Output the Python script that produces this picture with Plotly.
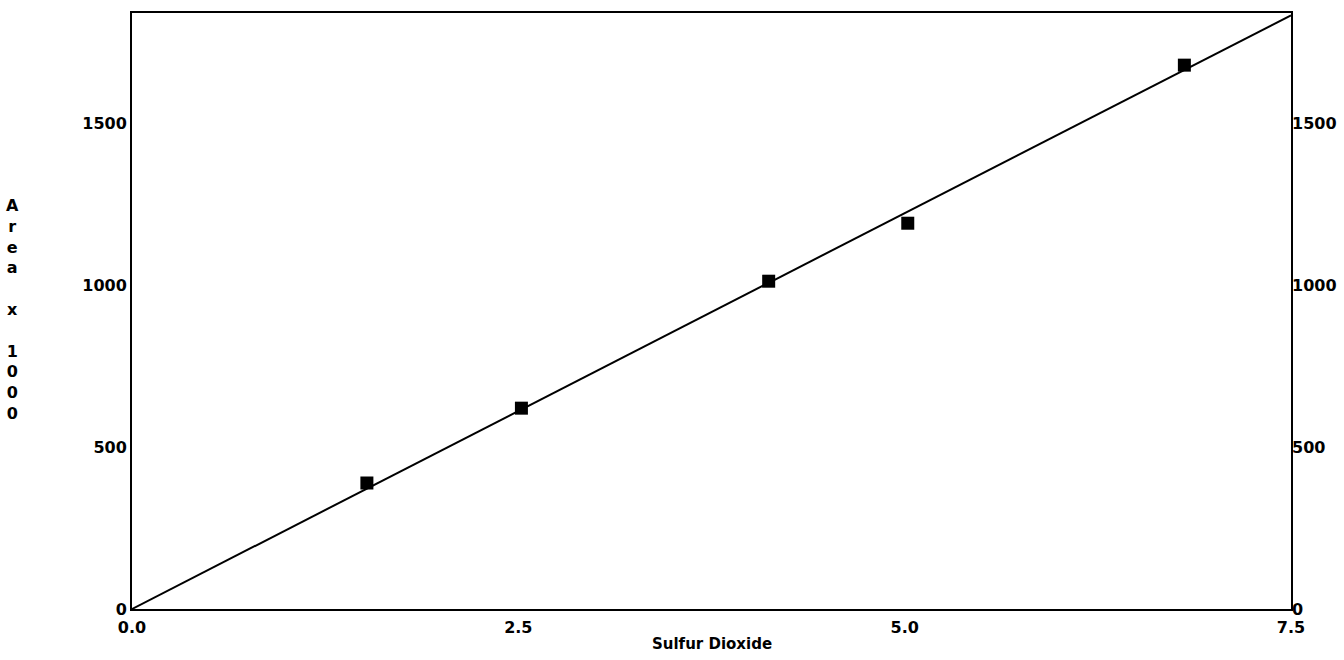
import plotly.graph_objects as go

# Data
so2 = [1.52, 2.52, 4.12, 5.02, 6.81]
area = [389, 620, 1012, 1191, 1679]
fit_x = [0.0, 7.5]
fit_y = [0.0, 1833.0]
y_ticks = [0, 500, 1000, 1500]
x_ticks = [0.0, 2.5, 5.0, 7.5]
x_tick_text = ["0.0", "2.5", "5.0", "7.5"]
y_title_chars = ["A", "r", "e", "a", "", "x", "", "1", "0", "0", "0"]

FONT = "DejaVu Sans"

fig = go.Figure()
fig.add_trace(go.Scatter(x=fit_x, y=fit_y, mode="lines",
                         line=dict(color="black", width=2), hoverinfo="skip",
                         showlegend=False))
fig.add_trace(go.Scatter(x=so2, y=area, mode="markers",
                         marker=dict(symbol="square", size=13, color="black"),
                         showlegend=False))
# invisible trace so the right-hand axis is drawn
fig.add_trace(go.Scatter(x=fit_x, y=fit_y, mode="lines", yaxis="y2",
                         line=dict(color="rgba(0,0,0,0)", width=0),
                         hoverinfo="skip", showlegend=False))

tickfont = dict(family=FONT, size=16, color="black", weight="bold")

fig.update_layout(
    width=1344, height=660,
    margin=dict(l=132, r=53, t=13, b=51),
    paper_bgcolor="white", plot_bgcolor="white",
    xaxis=dict(range=[0, 7.5], tickvals=x_ticks, ticktext=x_tick_text,
               showgrid=False, zeroline=False, showline=True, mirror=True,
               linecolor="black", linewidth=2, ticks="", automargin=False,
               tickfont=tickfont, ticklabelstandoff=3),
    yaxis=dict(range=[0, 1840], tickvals=y_ticks, automargin=False,
               showgrid=False, zeroline=False, showline=True, mirror=True,
               linecolor="black", linewidth=2, ticks="",
               tickfont=tickfont, ticklabelstandoff=0),
    yaxis2=dict(range=[0, 1840], tickvals=y_ticks, overlaying="y", side="right",
                showgrid=False, zeroline=False, showline=False, ticks="",
                automargin=False, tickfont=tickfont, ticklabelstandoff=0),
    annotations=[
        dict(text="Sulfur Dioxide", xref="paper", yref="paper",
             x=0.5, y=-0.04, xanchor="center", yanchor="top", showarrow=False,
             font=dict(family=FONT, size=15, color="black", weight="bold")),
        dict(text="<br>".join(c if c else " " for c in y_title_chars),
             xref="paper", yref="paper",
             x=(12 - 132) / 1159, y=0.503, xanchor="center", yanchor="middle",
             showarrow=False, align="center",
             font=dict(family=FONT, size=16, color="black", weight="bold")),
    ],
)

fig.write_html("out.html")
